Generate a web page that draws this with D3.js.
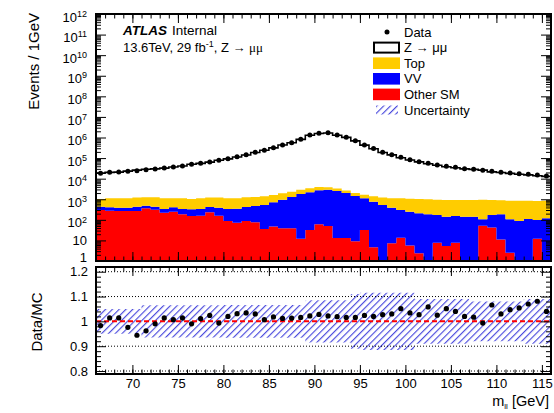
<!DOCTYPE html>
<html>
<head>
<meta charset="utf-8">
<script src="https://cdn.jsdelivr.net/npm/d3@7"></script>
<style>
body { margin: 0; background: #fff; }
svg { font-family: "Liberation Sans", Arial, sans-serif; }
</style>
</head>
<body>
<div id="container"></div>
<script>

// lower edge of each 1 GeV mass bin
var binLow = [66, 67, 68, 69, 70, 71, 72, 73, 74, 75, 76, 77, 78, 79, 80, 81, 82, 83, 84, 85,
	86, 87, 88, 89, 90, 91, 92, 93, 94, 95, 96, 97, 98, 99, 100, 101, 102, 103, 104, 105,
	106, 107, 108, 109, 110, 111, 112, 113, 114, 115];

// events per bin in data
var dataEvents = [18300, 20400, 21000, 22800, 24500, 27400, 29500, 33000, 37000, 41500,
	50000, 56000, 65000, 78000, 93000, 117000, 147000, 192000, 240000, 320000,
	435000, 560000, 820000, 1320000, 1600000, 1700000, 1320000, 1030000, 700000, 435000,
	290000, 192000, 147000, 110000, 83000, 67000, 56000, 46000, 40000, 35500,
	30500, 28700, 25700, 22800, 20400, 19000, 17400, 16300, 15100, 13500];

// data / MC ratio per bin
var dataOverMC = [0.983, 1.014, 1.014, 0.976, 0.944, 0.962, 0.990, 1.014, 1.007, 1.014,
	0.990, 1.011, 1.024, 0.993, 1.020, 1.031, 1.034, 1.030, 1.007, 1.018,
	1.012, 1.013, 1.016, 1.022, 1.028, 1.022, 1.019, 1.016, 1.016, 1.024,
	1.020, 1.027, 1.030, 1.051, 1.034, 1.027, 1.058, 1.025, 1.051, 1.040,
	1.020, 1.017, 0.993, 1.066, 1.030, 1.047, 1.054, 1.070, 1.081, 1.040];

// background samples (stacked)
var otherSM = [302, 279, 269, 269, 269, 362, 312, 223, 250, 185, 154, 159, 232, 159, 88,
	73, 88, 76, 36, 47, 39, 39, 12, 32, 61, 50, 13, 13, 9, 32, 4.6, 0, 7.2, 13.6, 5.6,
	2.4, 0, 7.8, 5.4, 7.8, 0, 0, 52, 43, 11, 2.5, 0, 0, 12, 0];
var dibosonVV = [134, 126, 121, 121, 167, 128, 124, 113, 155, 151, 170, 177, 188, 231, 248,
	277, 332, 394, 491, 663, 918, 1251, 1788, 2148, 2649, 2870, 2507, 1997, 1431, 1078,
	761, 527, 383, 286, 244, 206, 185, 164, 137, 146, 142, 142, 54, 129, 174, 104, 88, 110, 86, 118];
var topQuark = [594, 705, 720, 720, 764, 750, 804, 774, 705, 774, 706, 774, 780, 810, 774,
	760, 820, 820, 863, 900, 983, 1050, 1130, 1220, 1260, 950, 800, 650, 600, 560,
	624, 673, 720, 810, 820, 822, 815, 785, 778, 766, 778, 778, 851, 748, 705, 744, 762, 740, 722, 732];

// relative MC uncertainty per bin
var mcUncert = [0.05, 0.05, 0.05, 0.05, 0.05, 0.065, 0.065, 0.065, 0.065, 0.065,
	0.065, 0.065, 0.065, 0.065, 0.066, 0.066, 0.066, 0.066, 0.066, 0.066,
	0.066, 0.066, 0.066, 0.085, 0.085, 0.085, 0.085, 0.085, 0.11, 0.115,
	0.115, 0.115, 0.115, 0.115, 0.115, 0.09, 0.09, 0.09, 0.09, 0.09,
	0.09, 0.08, 0.08, 0.08, 0.08, 0.08, 0.08, 0.09, 0.09, 0.09];

// tick labels
var yPowers = [0, 1, 2, 3, 4, 5, 6, 7, 8, 9, 10, 11, 12];
var massTicks = [70, 75, 80, 85, 90, 95, 100, 105, 110, 115];
var ratioTicks = [0.8, 0.9, 1, 1.1, 1.2];
var legendNames = ["Data", "Z \u2192 \u03bc\u03bc", "Top", "VV", "Other SM", "Uncertainty"];

var colTop = "#ffcc00";
var colVV = "#0000ff";
var colOther = "#ff0000";
var colHatch = "#4040dc";

// canvas and frames
var width = 554;
var height = 413;
var frameL = 96, frameR = 551;
var upTop = 14, upBot = 261;
var loTop = 267, loBot = 374;

var svg = d3.select("#container")
	.append("svg")
	.attr("width", width)
	.attr("height", height);

var hatch = svg.append("defs").append("pattern")
	.attr("id", "hatch")
	.attr("patternUnits", "userSpaceOnUse")
	.attr("width", 4.8)
	.attr("height", 4.8)
	.attr("patternTransform", "rotate(45)");
hatch.append("line")
	.attr("x1", 0.6).attr("y1", 0)
	.attr("x2", 0.6).attr("y2", 4.8)
	.attr("stroke", colHatch)
	.attr("stroke-width", 1.1);

var x = d3.scaleLinear().domain([66, 116]).range([frameL, frameR]);
var yUp = d3.scaleLog().domain([1, 1e12]).range([upBot, upTop]).clamp(true);
var yLo = d3.scaleLinear().domain([0.788, 1.219]).range([loBot, loTop]);

// extend a per-bin array with one extra point at the last edge for step curves
function stepPoints(fn) {
	var pts = binLow.map(function(lo, i) { return fn(lo, i); });
	var last = fn(binLow[binLow.length - 1] + 1, binLow.length - 1);
	pts.push(last);
	return pts;
}

function styleAxis(g) {
	g.select(".domain").remove();
	g.selectAll(".tick line").attr("stroke", "#000").attr("stroke-width", 1);
	g.selectAll("text").attr("fill", "#000").style("font-size", "13px")
		.style("font-family", "'Liberation Sans', Arial, sans-serif");
}

function drawUpper() {

	var rows = binLow.map(function(lo, i) {
		return {lo: lo, other: otherSM[i], vv: dibosonVV[i], top: topQuark[i]};
	});
	var layers = d3.stack().keys(["other", "vv", "top"])(rows);
	var colours = {other: colOther, vv: colVV, top: colTop};

	var area = d3.area()
		.curve(d3.curveStepAfter)
		.x(function(d) { return x(d.x); })
		.y0(function(d) { return yUp(Math.max(d.y0, 1)); })
		.y1(function(d) { return yUp(Math.max(d.y1, 1)); });

	layers.forEach(function(layer) {
		var pts = stepPoints(function(xv, i) {
			return {x: xv, y0: layer[i][0], y1: layer[i][1]};
		});
		svg.append("path")
			.attr("d", area(pts))
			.attr("fill", colours[layer.key]);
	});

	// Z -> mumu on top: total MC = data / ratio
	var mcLine = d3.line()
		.curve(d3.curveStepAfter)
		.x(function(d) { return x(d.x); })
		.y(function(d) { return yUp(d.y); });
	var mcPts = stepPoints(function(xv, i) {
		return {x: xv, y: dataEvents[i] / dataOverMC[i]};
	});
	svg.append("path")
		.attr("d", mcLine(mcPts))
		.attr("fill", "none")
		.attr("stroke", "#000")
		.attr("stroke-width", 1.6);

	svg.append("g").selectAll("circle")
		.data(dataEvents)
		.enter()
		.append("circle")
		.attr("cx", function(d, i) { return x(binLow[i] + 0.5); })
		.attr("cy", function(d) { return yUp(d); })
		.attr("r", 2.5)
		.attr("fill", "#000");

	// log axis, major and minor ticks
	var majors = yPowers.map(function(p) { return Math.pow(10, p); });
	var minors = [];
	for (var p = 0; p < 12; p ++) {
		for (var k = 2; k < 10; k ++) {
			minors.push(k * Math.pow(10, p));
		}
	}

	var leftAxis = svg.append("g")
		.attr("transform", "translate(" + frameL + ",0)")
		.call(d3.axisLeft(yUp).tickValues(majors).tickSizeInner(-10).tickSizeOuter(0).tickPadding(9));
	styleAxis(leftAxis);
	leftAxis.selectAll(".tick text").each(function(d, i) {
		var t = d3.select(this).text(null);
		var p = yPowers[i];
		if (p == 0) {
			t.attr("dy", "0").text("1");
			return;
		}
		if (p == 1) {
			t.text("10");
			return;
		}
		t.attr("dy", "0.55em");
		t.append("tspan").text("10");
		t.append("tspan").attr("dy", "-0.55em").style("font-size", "9px").text(p);
	});
	styleAxis(svg.append("g")
		.attr("transform", "translate(" + frameL + ",0)")
		.call(d3.axisLeft(yUp).tickValues(minors).tickSizeInner(-5).tickSizeOuter(0).tickFormat("")));
	styleAxis(svg.append("g")
		.attr("transform", "translate(" + frameR + ",0)")
		.call(d3.axisRight(yUp).tickValues(majors).tickSizeInner(-10).tickSizeOuter(0).tickFormat("")));
	styleAxis(svg.append("g")
		.attr("transform", "translate(" + frameR + ",0)")
		.call(d3.axisRight(yUp).tickValues(minors).tickSizeInner(-5).tickSizeOuter(0).tickFormat("")));

	drawMassTicks(upTop, upBot, false);

	svg.append("rect")
		.attr("x", frameL).attr("y", upTop)
		.attr("width", frameR - frameL).attr("height", upBot - upTop)
		.attr("fill", "none").attr("stroke", "#000").attr("stroke-width", 2);

	// axis title
	svg.append("text")
		.attr("transform", "translate(39," + 13 + ") rotate(-90)")
		.style("text-anchor", "end")
		.style("font-size", "15px")
		.text("Events / 1GeV");
}

// x ticks on top and bottom edge of a panel
function drawMassTicks(top, bot, labels) {
	var minorMass = binLow.slice(1);
	var bottom = svg.append("g")
		.attr("transform", "translate(0," + bot + ")")
		.call(d3.axisBottom(x).tickValues(massTicks).tickSizeInner(-9).tickSizeOuter(0).tickPadding(5)
			.tickFormat(labels ? d3.format("d") : ""));
	styleAxis(bottom);
	styleAxis(svg.append("g")
		.attr("transform", "translate(0," + bot + ")")
		.call(d3.axisBottom(x).tickValues(minorMass).tickSizeInner(-4.5).tickSizeOuter(0).tickFormat("")));
	styleAxis(svg.append("g")
		.attr("transform", "translate(0," + top + ")")
		.call(d3.axisTop(x).tickValues(massTicks).tickSizeInner(-9).tickSizeOuter(0).tickFormat("")));
	styleAxis(svg.append("g")
		.attr("transform", "translate(0," + top + ")")
		.call(d3.axisTop(x).tickValues(minorMass).tickSizeInner(-4.5).tickSizeOuter(0).tickFormat("")));
}

function drawLower() {

	// white pad so the upper "1" label is cut like the original
	svg.append("rect")
		.attr("x", 0).attr("y", 264)
		.attr("width", width).attr("height", height - 264)
		.attr("fill", "#fff");

	var band = d3.area()
		.curve(d3.curveStepAfter)
		.x(function(d) { return x(d.x); })
		.y0(function(d) { return yLo(1 - d.u); })
		.y1(function(d) { return yLo(1 + d.u); });
	var bandPts = stepPoints(function(xv, i) { return {x: xv, u: mcUncert[i]}; });
	svg.append("path")
		.attr("d", band(bandPts))
		.attr("fill", "url(#hatch)");

	// dotted reference lines
	svg.append("g").selectAll("line")
		.data(ratioTicks.filter(function(r) { return r != 1; }))
		.enter()
		.append("line")
		.attr("x1", frameL).attr("x2", frameR)
		.attr("y1", function(d) { return yLo(d); })
		.attr("y2", function(d) { return yLo(d); })
		.attr("stroke", "#000")
		.attr("stroke-width", 1)
		.attr("stroke-dasharray", "1,2");

	svg.append("line")
		.attr("x1", frameL).attr("x2", frameR)
		.attr("y1", yLo(1)).attr("y2", yLo(1))
		.attr("stroke", colOther)
		.attr("stroke-width", 2)
		.attr("stroke-dasharray", "5,3");

	svg.append("g").selectAll("circle")
		.data(dataOverMC)
		.enter()
		.append("circle")
		.attr("cx", function(d, i) { return x(binLow[i] + 0.5); })
		.attr("cy", function(d) { return yLo(d); })
		.attr("r", 2.6)
		.attr("fill", "#000");

	var ratioMinor = [];
	for (var r = 80; r <= 121; r += 2) {
		if (r % 10 != 0) ratioMinor.push(r / 100);
	}

	styleAxis(svg.append("g")
		.attr("transform", "translate(" + frameL + ",0)")
		.call(d3.axisLeft(yLo).tickValues(ratioTicks).tickSizeInner(-10).tickSizeOuter(0).tickPadding(8)
			.tickFormat(function(d) { return d; })));
	styleAxis(svg.append("g")
		.attr("transform", "translate(" + frameL + ",0)")
		.call(d3.axisLeft(yLo).tickValues(ratioMinor).tickSizeInner(-5).tickSizeOuter(0).tickFormat("")));
	styleAxis(svg.append("g")
		.attr("transform", "translate(" + frameR + ",0)")
		.call(d3.axisRight(yLo).tickValues(ratioTicks).tickSizeInner(-10).tickSizeOuter(0).tickFormat("")));
	styleAxis(svg.append("g")
		.attr("transform", "translate(" + frameR + ",0)")
		.call(d3.axisRight(yLo).tickValues(ratioMinor).tickSizeInner(-5).tickSizeOuter(0).tickFormat("")));

	drawMassTicks(loTop, loBot, true);

	svg.append("rect")
		.attr("x", frameL).attr("y", loTop)
		.attr("width", frameR - frameL).attr("height", loBot - loTop)
		.attr("fill", "none").attr("stroke", "#000").attr("stroke-width", 2);

	svg.append("text")
		.attr("transform", "translate(42,322) rotate(-90)")
		.style("text-anchor", "middle")
		.style("font-size", "15px")
		.text("Data/MC");

	// x axis title m_ll [GeV]
	var xt = svg.append("text")
		.attr("x", 549).attr("y", 406)
		.style("text-anchor", "end")
		.style("font-size", "14.5px");
	xt.append("tspan").text("m");
	xt.append("tspan").attr("dy", 3).style("font-size", "8px").text("ll");
	xt.append("tspan").attr("dy", -3).text(" [GeV]");
}

function drawLabels() {

	var atlas = svg.append("text")
		.attr("x", 123).attr("y", 35)
		.style("font-size", "13.5px");
	atlas.append("tspan").style("font-weight", "bold").style("font-style", "italic").text("ATLAS");
	atlas.append("tspan").attr("x", 172).text("Internal");

	var lumi = svg.append("text")
		.attr("x", 123).attr("y", 51.5)
		.style("font-size", "13px");
	lumi.append("tspan").text("13.6TeV, 29 fb");
	lumi.append("tspan").attr("dy", -5).style("font-size", "9px").text("-1");
	lumi.append("tspan").attr("dy", 5).text(", Z \u2192 ");
	lumi.append("tspan").style("font-family", "'Liberation Serif', serif").text("\u03bc\u03bc");

	// legend
	var rowY = function(i) { return 32 + i * 15.6; };
	var legend = svg.append("g");

	legend.append("circle")
		.attr("cx", 387).attr("cy", rowY(0)).attr("r", 2.5).attr("fill", "#000");
	legend.append("rect")
		.attr("x", 374).attr("y", rowY(1) - 5).attr("width", 25).attr("height", 10)
		.attr("fill", "#fff").attr("stroke", "#000").attr("stroke-width", 2);
	[colTop, colVV, colOther].forEach(function(c, j) {
		legend.append("rect")
			.attr("x", 373).attr("y", rowY(j + 2) - 5.8).attr("width", 27).attr("height", 11.6)
			.attr("fill", c);
	});
	legend.append("rect")
		.attr("x", 376).attr("y", rowY(5) - 4.5).attr("width", 22).attr("height", 9)
		.attr("fill", "url(#hatch)");

	legend.selectAll("text")
		.data(legendNames)
		.enter()
		.append("text")
		.attr("x", 404)
		.attr("y", function(d, i) { return rowY(i); })
		.attr("dy", "0.36em")
		.style("font-size", "13px")
		.text(function(d) { return d; });
}

drawUpper();
drawLower();
drawLabels();

</script>
</body>
</html>
